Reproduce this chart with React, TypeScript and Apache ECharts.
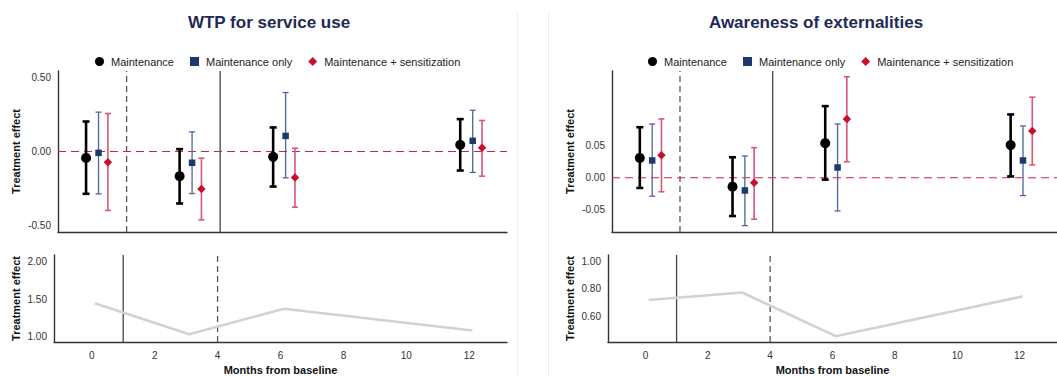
import React, { useEffect, useRef } from "react";
import * as echarts from "echarts";

// ---------- data ----------
const months = [0, 3, 6, 12];
const seriesNames = ["Maintenance", "Maintenance only", "Maintenance + sensitization"];

// WTP for service use
const wtpMaintEst = [-0.043, -0.166, -0.036, 0.045];
const wtpMaintLo = [-0.285, -0.35, -0.236, -0.128];
const wtpMaintHi = [0.202, 0.016, 0.162, 0.218];
const wtpOnlyEst = [-0.009, -0.076, 0.105, 0.072];
const wtpOnlyLo = [-0.285, -0.283, -0.177, -0.141];
const wtpOnlyHi = [0.265, 0.132, 0.397, 0.278];
const wtpSensEst = [-0.072, -0.253, -0.175, 0.025];
const wtpSensLo = [-0.397, -0.46, -0.375, -0.166];
const wtpSensHi = [0.256, -0.045, 0.022, 0.209];
const wtpLower = [1.444, 1.03, 1.37, 1.08];

// Awareness of externalities
const awMaintEst = [0.031, -0.014, 0.054, 0.051];
const awMaintLo = [-0.016, -0.06, -0.003, 0.002];
const awMaintHi = [0.079, 0.032, 0.112, 0.099];
const awOnlyEst = [0.027, -0.02, 0.016, 0.027];
const awOnlyLo = [-0.029, -0.075, -0.052, -0.028];
const awOnlyHi = [0.084, 0.034, 0.084, 0.081];
const awSensEst = [0.035, -0.008, 0.092, 0.073];
const awSensLo = [-0.022, -0.065, 0.025, 0.02];
const awSensHi = [0.092, 0.047, 0.158, 0.126];
const awLower = [0.719, 0.774, 0.452, 0.745];

const wtpTopTicks = [-0.5, 0, 0.5];
const wtpBottomTicks = [1, 1.5, 2];
const awTopTicks = [-0.05, 0, 0.05];
const awBottomTicks = [0.6, 0.8, 1];
const monthTicks = [0, 2, 4, 6, 8, 10, 12];

const topDashedMonth = 1;
const topSolidMonth = 4;
const bottomSolidMonth = 1;
const bottomDashedMonth = 4;
const zeroEffect = 0;

// axis ranges
const xMin = -1.2;
const xMax = 13.2;
const yRanges: [number, number][] = [
  [-0.542, 0.542],
  [0.927, 2.087],
  [-0.085, 0.167],
  [0.409, 1.05],
];

// ---------- styles ----------
const FONT = "Liberation Sans, Arial, Helvetica, sans-serif";
const dodge = [-0.3, 0.1, 0.4];
const markerColors = ["#000000", "#1c3a6e", "#c8102e"];
const barColors = ["#000000", "#4a6798", "#d8587a"];
const barWidths = [2.6, 1.3, 1.6];
const capHalf = [3.5, 3, 3];
const symbols = ["circle", "rect", "diamond"];
const symbolSizes = [10, 6.5, 8.5];
const ZERO_COLOR = "#c8283e";

function errorSeries(gi: number, k: number, lo: number[], hi: number[]) {
  return {
    type: "custom",
    name: "ci-" + gi + "-" + k,
    xAxisIndex: gi,
    yAxisIndex: gi,
    silent: true,
    z: 3,
    encode: { x: 0, y: [1, 2] },
    data: months.map((m, i) => [m + dodge[k], lo[i], hi[i]]),
    renderItem: (params: any, api: any) => {
      const x = api.value(0);
      const p1 = api.coord([x, api.value(1)]);
      const p2 = api.coord([x, api.value(2)]);
      const st = { stroke: barColors[k], lineWidth: barWidths[k] };
      const h = capHalf[k];
      return {
        type: "group",
        children: [
          { type: "line", shape: { x1: p1[0], y1: p1[1], x2: p2[0], y2: p2[1] }, style: st },
          { type: "line", shape: { x1: p1[0] - h, y1: p1[1], x2: p1[0] + h, y2: p1[1] }, style: st },
          { type: "line", shape: { x1: p2[0] - h, y1: p2[1], x2: p2[0] + h, y2: p2[1] }, style: st },
        ],
      };
    },
  };
}

function pointSeries(gi: number, k: number, est: number[]) {
  return {
    type: "scatter",
    name: seriesNames[k],
    xAxisIndex: gi,
    yAxisIndex: gi,
    symbol: symbols[k],
    symbolSize: symbolSizes[k],
    itemStyle: { color: markerColors[k], opacity: 1 },
    z: 5,
    data: months.map((m, i) => [m + dodge[k], est[i]]),
  };
}

function vLineSeries(gi: number, month: number, dashed: boolean) {
  const c = dashed ? "#555555" : "#444444";
  return {
    type: "line",
    name: "vref-" + gi + "-" + month,
    xAxisIndex: gi,
    yAxisIndex: gi,
    silent: true,
    symbol: "none",
    z: 1,
    color: c,
    lineStyle: { color: c, width: 1.3, type: dashed ? [6, 4] : "solid" },
    data: [
      [month, yRanges[gi][0]],
      [month, yRanges[gi][1]],
    ],
  };
}

// zero reference line drawn as a custom element so its colour is explicit
function zeroSeries(gi: number) {
  return {
    type: "custom",
    name: "zero-" + gi,
    xAxisIndex: gi,
    yAxisIndex: gi,
    silent: true,
    z: 2,
    encode: { x: [0, 1], y: 2 },
    data: [[xMin, xMax, zeroEffect]],
    renderItem: (params: any, api: any) => {
      const a = api.coord([api.value(0), api.value(2)]);
      const b = api.coord([api.value(1), api.value(2)]);
      return {
        type: "line",
        shape: { x1: a[0], y1: a[1], x2: b[0], y2: b[1] },
        style: { stroke: ZERO_COLOR, lineWidth: 1.1, lineDash: [8, 5], opacity: 1 },
      };
    },
  };
}

function lowerSeries(gi: number, vals: number[]) {
  return {
    type: "line",
    name: "lower-" + gi,
    xAxisIndex: gi,
    yAxisIndex: gi,
    symbol: "none",
    color: "#d2d2d2",
    lineStyle: { color: "#d2d2d2", width: 2.6 },
    z: 2,
    data: months.map((m, i) => [m + 0.1, vals[i]]),
  };
}

const axisLineStyle = { show: true, onZero: false, lineStyle: { color: "#333", width: 1.4 } };
const labelStyle = { color: "#333", fontSize: 10, fontFamily: FONT };
const nameStyle = { color: "#111", fontSize: 11, fontWeight: "bold" as const, fontFamily: FONT };

function xAxis(gi: number, showLabels: boolean) {
  return {
    type: "value",
    gridIndex: gi,
    min: xMin,
    max: xMax,
    axisLine: axisLineStyle,
    axisTick: { show: false },
    splitLine: { show: false },
    axisPointer: { show: false },
    axisLabel: showLabels
      ? { ...labelStyle, margin: 8, customValues: monthTicks, formatter: (v: number) => String(v) }
      : { show: false },
    name: showLabels ? "Months from baseline" : "",
    nameLocation: "middle",
    nameGap: 22,
    nameTextStyle: nameStyle,
  };
}

function yAxis(gi: number, ticks: number[], gap: number) {
  return {
    type: "value",
    gridIndex: gi,
    min: yRanges[gi][0],
    max: yRanges[gi][1],
    axisLine: axisLineStyle,
    axisTick: { show: false },
    splitLine: { show: false },
    axisPointer: { show: false },
    axisLabel: { ...labelStyle, margin: 7, customValues: ticks, formatter: (v: number) => v.toFixed(2) },
    name: "Treatment effect",
    nameLocation: "middle",
    nameGap: gap,
    nameTextStyle: nameStyle,
  };
}

export default function App() {
  const ref = useRef<HTMLDivElement>(null);
  useEffect(() => {
    if (!ref.current) return;
    const chart = echarts.init(ref.current, null, { renderer: "svg" });
    const legendBase = {
      orient: "horizontal",
      top: 51,
      itemWidth: 9,
      itemHeight: 9,
      itemGap: 16,
      textStyle: { color: "#222", fontSize: 11, fontFamily: FONT, padding: [0, 0, 0, 2] },
      selectedMode: false,
    };
    const legendData = seriesNames.map((n, k) => ({ name: n, icon: symbols[k], itemStyle: { color: markerColors[k] } }));
    chart.setOption({
      animation: false,
      backgroundColor: "#ffffff",
      title: [
        {
          text: "WTP for service use",
          left: 264,
          top: 9,
          textAlign: "center",
          textStyle: { color: "#1e2a55", fontSize: 17, fontWeight: "bold", fontFamily: FONT },
        },
        {
          text: "Awareness of externalities",
          left: 811,
          top: 9,
          textAlign: "center",
          textStyle: { color: "#1e2a55", fontSize: 17, fontWeight: "bold", fontFamily: FONT },
        },
      ],
      legend: [
        { ...legendBase, left: 90, data: legendData },
        { ...legendBase, left: 643, data: legendData },
      ],
      graphic: [
        { type: "line", shape: { x1: 517.5, y1: 11, x2: 517.5, y2: 376 }, style: { stroke: "#eceff2", lineWidth: 1 } },
        { type: "line", shape: { x1: 548.5, y1: 11, x2: 548.5, y2: 376 }, style: { stroke: "#eceff2", lineWidth: 1 } },
      ],
      grid: [
        { left: 58, right: 550, top: 71, height: 161 },
        { left: 54, right: 550, top: 255, height: 89 },
        { left: 612, right: 0, top: 71, height: 161 },
        { left: 608, right: 0, top: 255, height: 89 },
      ],
      xAxis: [xAxis(0, false), xAxis(1, true), xAxis(2, false), xAxis(3, true)],
      yAxis: [yAxis(0, wtpTopTicks, 37), yAxis(1, wtpBottomTicks, 33), yAxis(2, awTopTicks, 37), yAxis(3, awBottomTicks, 33)],
      series: [
        vLineSeries(0, topDashedMonth, true),
        vLineSeries(0, topSolidMonth, false),
        vLineSeries(1, bottomSolidMonth, false),
        vLineSeries(1, bottomDashedMonth, true),
        vLineSeries(2, topDashedMonth, true),
        vLineSeries(2, topSolidMonth, false),
        vLineSeries(3, bottomSolidMonth, false),
        vLineSeries(3, bottomDashedMonth, true),
        zeroSeries(0),
        zeroSeries(2),
        errorSeries(0, 0, wtpMaintLo, wtpMaintHi),
        errorSeries(0, 1, wtpOnlyLo, wtpOnlyHi),
        errorSeries(0, 2, wtpSensLo, wtpSensHi),
        pointSeries(0, 0, wtpMaintEst),
        pointSeries(0, 1, wtpOnlyEst),
        pointSeries(0, 2, wtpSensEst),
        errorSeries(2, 0, awMaintLo, awMaintHi),
        errorSeries(2, 1, awOnlyLo, awOnlyHi),
        errorSeries(2, 2, awSensLo, awSensHi),
        pointSeries(2, 0, awMaintEst),
        pointSeries(2, 1, awOnlyEst),
        pointSeries(2, 2, awSensEst),
        lowerSeries(1, wtpLower),
        lowerSeries(3, awLower),
      ],
    });
    return () => chart.dispose();
  }, []);
  return (
    <div
      ref={ref}
      style={{ position: "fixed", left: 0, top: 0, width: 1057, height: 376, background: "#fff" }}
    />
  );
}
